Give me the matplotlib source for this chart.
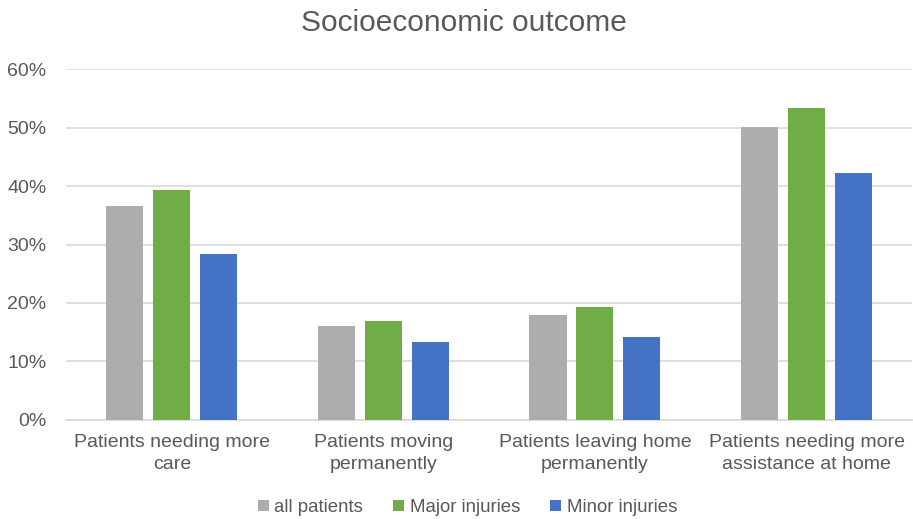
import matplotlib.pyplot as plt
import numpy as np

plt.rcParams['font.family'] = ['Liberation Sans', 'DejaVu Sans']

# data
categories = ['Patients needing more\ncare', 'Patients moving\npermanently',
              'Patients leaving home\npermanently', 'Patients needing more\nassistance at home']
series = ['all patients', 'Major injuries', 'Minor injuries']
all_patients = [36.6, 16.1, 17.9, 50.1]
major_injuries = [39.3, 17.0, 19.4, 53.4]
minor_injuries = [28.4, 13.4, 14.2, 42.3]
yticks = [0, 10, 20, 30, 40, 50, 60]

colors = ['#ADADAD', '#70AD47', '#4472C4']
text_color = '#595959'

fig = plt.figure(figsize=(9.13, 5.19), dpi=100)
ax = fig.add_axes([0.0723, 0.1908, 0.927, 0.6762])

x = np.arange(len(categories))
w = 0.175
off = 0.222
for i, (vals, name) in enumerate(zip([all_patients, major_injuries, minor_injuries], series)):
    ax.bar(x + (i - 1) * off, vals, width=w, color=colors[i], label=name, zorder=3)

ax.set_xlim(-0.5, len(categories) - 0.5)
ax.set_ylim(0, 60)
ax.set_yticks(yticks)
ax.set_yticklabels(['%d%%' % t for t in yticks])
ax.set_xticks(x)
ax.set_xticklabels(categories, linespacing=1.38)
ax.grid(axis='y', color='#D9D9D9', lw=1.2, zorder=0)
for s in ['top', 'right', 'left']:
    ax.spines[s].set_visible(False)
ax.spines['bottom'].set_color('#D9D9D9')
ax.spines['bottom'].set_linewidth(1.2)
ax.tick_params(axis='both', length=0, labelsize=14, colors=text_color)
ax.tick_params(axis='x', pad=10)
ax.tick_params(axis='y', pad=14)

fig.text(0.508, 0.955, 'Socioeconomic outcome', ha='center', va='center',
         fontsize=21.5, color=text_color)

leg = fig.legend(loc='center', bbox_to_anchor=(0.512, 0.022), ncol=3, frameon=False,
                 fontsize=13.4, handlelength=0.6, handleheight=0.6, handletextpad=0.3,
                 columnspacing=1.6)
for t in leg.get_texts():
    t.set_color(text_color)

plt.savefig('out.png', dpi=100)
